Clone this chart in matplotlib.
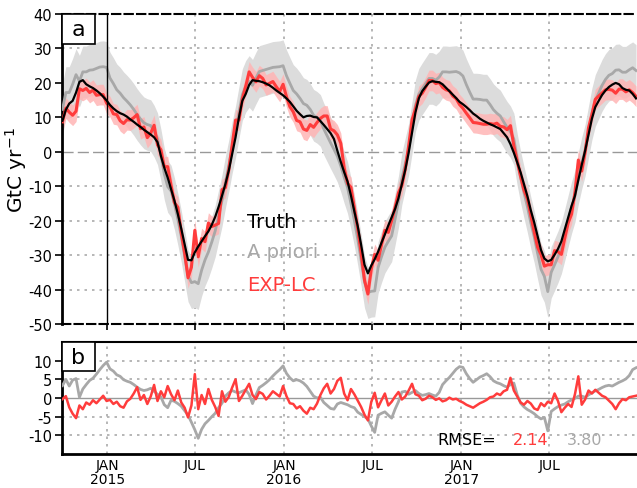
import numpy as np
import matplotlib
matplotlib.use("Agg")
import matplotlib.pyplot as plt
from matplotlib.patches import Rectangle

plt.rcParams['font.family'] = ['DejaVu Sans']
plt.rcParams['axes.unicode_minus'] = False

# weekly samples starting 2014-10-01
start = np.datetime64('2014-10-01')
n_weeks = 170
dates = start + np.arange(n_weeks) * np.timedelta64(7, 'D')

# truth flux (GtC/yr)
truth = [
    9.0, 12.2, 14.0, 14.8, 17.2, 20.3, 20.8, 19.6, 19.0, 18.5,
    17.8, 17.0, 16.0, 14.9, 13.6, 12.6, 11.8, 11.2, 10.8, 10.2,
    9.4, 8.7, 7.9, 7.2, 6.4, 5.7, 5.0, 4.2, 2.8, -1.2,
    -4.6, -7.5, -10.8, -14.2, -18.1, -22.3, -26.8, -31.4, -31.5, -29.2,
    -27.5, -26.0, -24.5, -23.1, -21.2, -18.9, -16.0, -12.8, -9.4, -5.5,
    -0.7, 4.2, 10.0, 14.8, 16.8, 19.4, 20.8, 20.6, 20.5, 20.2,
    19.8, 19.3, 18.6, 17.8, 17.1, 16.4, 15.5, 14.5, 13.2, 11.9,
    10.9, 10.0, 10.4, 10.5, 10.1, 10.0, 8.9, 7.8, 6.6, 5.4,
    3.7, 0.3, -2.9, -5.9, -8.6, -12.7, -17.3, -21.6, -27.0, -32.8,
    -35.3, -33.0, -31.2, -29.0, -26.4, -24.0, -21.4, -19.0, -16.6, -13.5,
    -9.4, -5.3, -0.3, 5.5, 11.4, 15.5, 17.6, 18.9, 20.1, 20.5,
    20.3, 20.2, 19.6, 18.6, 17.6, 16.6, 15.6, 14.5, 13.8, 13.0,
    12.1, 11.1, 10.4, 9.6, 9.0, 8.5, 8.0, 7.6, 7.1, 6.6,
    5.4, 4.2, 2.2, -0.3, -3.1, -6.0, -9.4, -12.9, -17.0, -20.5,
    -24.5, -28.5, -31.0, -31.8, -31.4, -29.9, -28.2, -26.0, -22.5, -19.1,
    -15.7, -12.8, -8.2, -3.8, 0.3, 5.0, 9.6, 13.0, 14.8, 16.5,
    17.8, 18.8, 19.5, 20.0, 19.6, 18.5, 18.0, 17.8, 16.8, 15.5,
]

# a priori minus truth (grey)
prior_diff = [
    3.3, 5.0, 3.2, 4.8, 5.2, 0.2, 2.4, 3.6, 4.7, 5.3,
    6.4, 7.6, 8.7, 9.6, 7.8, 7.2, 6.2, 5.8, 4.9, 4.5,
    4.2, 3.6, 2.9, 2.3, 2.0, 2.2, 2.6, 1.8, 1.0, 0.3,
    -1.8, -2.6, -0.6, -0.9, -1.5, -2.2, -3.4, -4.6, -6.5, -8.5,
    -10.8, -8.4, -6.9, -6.0, -5.0, -4.1, -2.6, -1.4, 0.5, 1.4,
    2.0, 1.6, 1.4, 1.8, 2.2, 1.0, -1.5, 0.8, 2.8, 3.4,
    4.1, 4.9, 5.9, 6.8, 7.6, 8.6, 6.6, 5.4, 4.6, 4.9,
    4.6, 4.0, 3.1, 1.8, 0.5, 0.0, 0.2, -1.2, -2.0, -2.8,
    -3.0, -1.6, -1.2, -1.5, -1.8, -2.3, -2.6, -3.8, -4.4, -5.0,
    -5.6, -7.5, -9.2, -4.6, -4.1, -3.7, -4.6, -5.4, -3.0, -1.0,
    1.6, 1.8, 1.0, 1.5, 2.0, 1.2, 0.7, 0.9, 1.2, 0.8,
    0.5, 1.5, 3.6, 4.6, 5.5, 6.6, 7.7, 8.4, 8.2, 6.5,
    5.2, 4.2, 4.9, 5.6, 6.0, 6.5, 5.7, 4.6, 4.1, 3.8,
    3.3, 2.9, 3.6, 4.0, 0.8, -1.4, -2.4, -3.1, -3.6, -4.2,
    -5.0, -5.6, -5.2, -8.8, -3.6, -2.9, -2.3, -1.9, -1.6, -1.0,
    -0.5, -0.1, 0.5, 0.5, 0.2, 0.8, 1.4, 1.9, 2.3, 2.8,
    3.2, 3.4, 3.2, 3.7, 4.2, 4.6, 5.1, 6.0, 7.6, 8.1,
]

# EXP-LC minus truth (red)
explc_diff = [
    -0.3, 0.5, -2.5, -4.2, -5.4, -2.0, -3.0, -1.2, -1.8, -0.6,
    -1.4, -0.4, 0.6, -0.8, -0.5, -1.6, -1.0, -2.2, -2.6, -0.9,
    -0.2, 1.2, 2.9, -0.5, 0.8, -1.6, 0.4, 3.5, -0.8, 1.8,
    0.2, 3.2, 1.0, -0.6, 2.0, -1.2, -2.6, -5.2, -2.0, 6.4,
    -3.0, 0.8, -1.6, 2.4, -0.5, -2.4, -4.8, 1.8, -1.0, 0.3,
    2.8, 5.0, -0.8, 0.6, 2.2, 3.8, 0.8, -0.3, 1.6, 1.1,
    -0.4, 0.6, 1.8, 1.1, 0.4, 3.2, 0.5, -1.4, -1.6, -2.8,
    -2.2, -3.4, -4.2, -2.6, -3.0, -1.5, 0.8, 2.6, 3.8, 1.2,
    2.4, 4.6, 5.4, 1.2, -0.6, 2.4, 1.0, -0.7, -2.4, -4.5,
    -6.0, -1.0, 1.4, -2.5, -0.6, 1.2, -2.0, -1.0, 0.4, 1.6,
    -0.4, 0.4, 2.0, 3.8, 1.0, 0.6, -0.6, -0.2, 0.6, 0.2,
    -0.5, -0.1, -0.9, -0.6, 0.1, -0.4, -0.2, -0.8, -1.2, -1.8,
    -2.2, -2.6, -2.0, -1.4, -1.0, -0.5, 0.2, 0.4, 1.2, 0.8,
    1.8, 2.2, 5.4, 2.0, 0.4, -1.2, -1.8, -0.8, -1.5, -2.8,
    -3.2, -1.4, -2.2, -1.0, -1.4, 1.2, -0.8, -3.8, -2.6, -1.6,
    -2.4, 1.0, 5.8, -1.8, -0.4, 2.0, 1.2, 2.2, 1.4, 0.6,
    0.2, -0.7, -1.6, -3.0, -1.4, -0.3, -0.6, 0.2, 0.4, 0.6,
]

prior_spread = 7.5   # half width of a priori uncertainty band
explc_spread = 3.0   # half width of EXP-LC uncertainty band

rmse_explc = "2.14"
rmse_prior = "3.80"

tick_dates = ['2015-01-01', '2015-07-01', '2016-01-01', '2016-07-01', '2017-01-01', '2017-07-01']
tick_labels = ['JAN\n2015', 'JUL', 'JAN\n2016', 'JUL', 'JAN\n2017', 'JUL']

truth = np.array(truth)
prior = truth + np.array(prior_diff)
explc = truth + np.array(explc_diff)

RED = '#ff3c3c'
GREY = '#a8a8a8'
DOT = (0, (1.5, 3))

fig = plt.figure(figsize=(6.37, 4.89), dpi=100)
ax1 = fig.add_axes([0.0973, 0.3354, 0.9027, 0.6339])
ax2 = fig.add_axes([0.0973, 0.0695, 0.9027, 0.2291])

xlim = (np.datetime64('2014-09-30'), np.datetime64('2017-12-29'))
ticks = [np.datetime64(t) for t in tick_dates]

# panel a
ax1.fill_between(dates, prior - prior_spread, prior + prior_spread, color='#dcdcdc', lw=0, zorder=1)
ax1.fill_between(dates, explc - explc_spread, explc + explc_spread, color='#ffb5b5', lw=0, alpha=0.85, zorder=2)
ax1.plot(dates, prior, color=GREY, lw=2.0, zorder=3)
ax1.plot(dates, explc, color=RED, lw=2.2, zorder=4)
ax1.plot(dates, truth, color='black', lw=1.6, zorder=5)

for y in range(-40, 40, 10):
    if y == 0:
        ax1.axhline(0, color='#999999', lw=1.0, ls=(0, (8, 3)), zorder=0.5)
    else:
        ax1.axhline(y, color='#aaaaaa', lw=1.2, ls=DOT, zorder=0.5)
for t in ticks[1:]:
    ax1.axvline(t, color='#aaaaaa', lw=1.2, ls=DOT, zorder=0.5)
ax1.axvline(ticks[0], color='black', lw=1.0, zorder=6)

ax1.set_ylim(-50, 40)
ax1.set_yticks(range(-50, 41, 10))
ax1.set_xlim(*xlim)
ax1.set_xticks(ticks)
ax1.set_xticklabels([])
ax1.set_ylabel('GtC yr$^{-1}$', fontsize=14.5)
ax1.yaxis.set_label_coords(-0.058, 0.5)

ax1.text(0.322, 0.332, 'Truth', color='black', fontsize=14, transform=ax1.transAxes, va='center')
ax1.text(0.322, 0.235, 'A priori', color=GREY, fontsize=14, transform=ax1.transAxes, va='center')
ax1.text(0.322, 0.129, 'EXP-LC', color=RED, fontsize=14, transform=ax1.transAxes, va='center')

# panel b
ax2.axhline(0, color='#999999', lw=1.0, zorder=0.5)
for y in [-10, -5, 5, 10]:
    ax2.axhline(y, color='#aaaaaa', lw=1.2, ls=DOT, zorder=0.5)
for t in ticks:
    ax2.axvline(t, color='#aaaaaa', lw=1.2, ls=DOT, zorder=0.5)
ax2.plot(dates, prior - truth, color=GREY, lw=2.0, zorder=3)
ax2.plot(dates, explc - truth, color=RED, lw=1.8, zorder=4)

ax2.set_ylim(-15, 15)
ax2.set_yticks([-10, -5, 0, 5, 10])
ax2.set_xlim(*xlim)
ax2.set_xticks(ticks)
ax2.set_xticklabels(tick_labels, fontsize=10, linespacing=0.95)

ax2.text(0.652, 0.134, 'RMSE=', color='black', fontsize=11.5, transform=ax2.transAxes, va='center')
ax2.text(0.785, 0.134, rmse_explc, color=RED, fontsize=11.5, transform=ax2.transAxes, va='center')
ax2.text(0.878, 0.134, rmse_prior, color=GREY, fontsize=11.5, transform=ax2.transAxes, va='center')

for ax in (ax1, ax2):
    ax.tick_params(axis='y', labelsize=10.5, length=5, width=1.2, pad=2, direction='out')
    ax.tick_params(axis='x', length=4, width=1.2, direction='out')
    ax.spines['right'].set_visible(False)
    ax.spines['left'].set_linewidth(2.0)

ax1.spines['top'].set_linestyle((0, (4, 2)))
ax1.spines['bottom'].set_linestyle((0, (4, 2)))
ax1.spines['top'].set_linewidth(1.5)
ax1.spines['bottom'].set_linewidth(1.5)
ax2.spines['top'].set_linewidth(1.5)
ax2.spines['bottom'].set_linewidth(2.0)
ax2.tick_params(axis='x', length=0, pad=3)

# panel letters in boxes tucked into the top-left corner
for ax, label, h in ((ax1, 'a', 0.097), (ax2, 'b', 0.26)):
    ax.add_patch(Rectangle((0, 1 - h), 0.057, h, transform=ax.transAxes,
                           facecolor='white', edgecolor='black', lw=1.2, zorder=10, clip_on=False))
    ax.text(0.0285, 1 - h / 2, label, fontsize=16, transform=ax.transAxes,
            ha='center', va='center', zorder=11)

fig.savefig('out.png', dpi=100)
